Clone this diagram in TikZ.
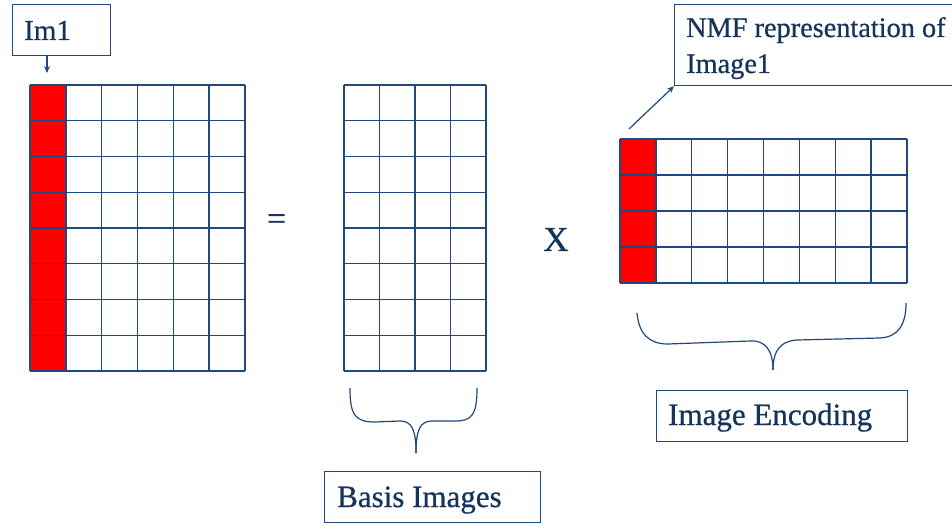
\documentclass[tikz,border=0pt]{standalone}
\usepackage{fontspec}
\setmainfont{Liberation Serif}[FakeBold=0.6]
\usetikzlibrary{arrows.meta}
\definecolor{lineblue}{RGB}{31,73,125}
\definecolor{textblue}{RGB}{20,52,92}
\definecolor{cellred}{RGB}{255,0,0}
\tikzset{
  gridline/.style={draw=lineblue, line width=1.4pt},
  labelbox/.style={draw=lineblue, line width=1.2pt, rectangle, anchor=north west, inner sep=0pt},
  labeltext/.style={text=textblue, anchor=base west, inner sep=0pt, align=left},
  bracestyle/.style={draw=lineblue, line width=1.2pt},
  pointer/.style={draw=lineblue, line width=1.2pt, -{Stealth[length=7pt,width=6pt]}},
  symb/.style={text=textblue, inner sep=0pt}
}
\begin{document}
\begin{tikzpicture}[x=1pt,y=-1pt]
\useasboundingbox (0,0) rectangle (952,529);
\fill[white] (0,0) rectangle (952,529);
\begin{scope}
\clip (0,0) rectangle (952,529);
% Matrix 1 (V)
\fill[cellred] (30,85) rectangle (65.8,371);
\foreach \i in {0,...,6} \draw[gridline] ({30+\i*215/6},85) -- ({30+\i*215/6},371);
\foreach \j in {0,...,8} \draw[gridline] (30,{85+\j*286/8}) -- (245,{85+\j*286/8});
\node[minimum width=215pt, minimum height=286pt, inner sep=0pt, anchor=north west] (V) at (30,85) {};
% Matrix 2 (W)
\foreach \i in {0,...,4} \draw[gridline] ({344+\i*142/4},85) -- ({344+\i*142/4},371);
\foreach \j in {0,...,8} \draw[gridline] (344,{85+\j*286/8}) -- (486,{85+\j*286/8});
\node[minimum width=142pt, minimum height=286pt, inner sep=0pt, anchor=north west] (W) at (344,85) {};
% Matrix 3 (H)
\fill[cellred] (620,139) rectangle (655.9,283);
\foreach \i in {0,...,8} \draw[gridline] ({620+\i*287/8},139) -- ({620+\i*287/8},283);
\foreach \j in {0,...,4} \draw[gridline] (620,{139+\j*144/4}) -- (907,{139+\j*144/4});
\node[minimum width=287pt, minimum height=144pt, inner sep=0pt, anchor=north west] (H) at (620,139) {};
% symbols
\node[symb, font=\fontsize{34}{34}\selectfont] (eq) at (276.5,222) {=};
\node[symb, font=\fontsize{35}{35}\selectfont] (times) at (556,239.5) {X};
% label boxes
\node[labelbox, minimum width=98pt, minimum height=51pt] (im1) at (12,4) {};
\node[labeltext, font=\fontsize{29}{29}\selectfont] (im1t) at (24,40) {Im1};
\node[labelbox, minimum width=300pt, minimum height=81pt] (nmf) at (674,4) {};
\node[labeltext, font=\fontsize{28.3}{36}\selectfont] (nmft) at (686,73) {NMF representation of\\Image1};
\node[labelbox, minimum width=216pt, minimum height=51pt] (basis) at (324,471) {};
\node[labeltext, font=\fontsize{31}{31}\selectfont] (basist) at (337,507) {Basis Images};
\node[labelbox, minimum width=251pt, minimum height=51pt] (enc) at (656,390) {};
\node[labeltext, font=\fontsize{31}{31}\selectfont] (enct) at (668,425) {Image Encoding};
% pointers
\coordinate (im1tip) at (47,73);
\draw[pointer] (im1.south -| im1tip) -- (im1tip);
\coordinate (hcorner) at (629,129);
\draw[pointer] (hcorner) -- (nmf.south west);
% braces
\draw[bracestyle] (350,388) .. controls (350,415) and (355,422) .. (375,422) -- (400,421)
  .. controls (412,421) and (416,430) .. (416,453);
\draw[bracestyle] (477,388) .. controls (477,415) and (472,421) .. (455,421) -- (432,421)
  .. controls (420,421) and (416,430) .. (416,453);
\draw[bracestyle] (637,313) .. controls (639,335) and (650,344) .. (668,344) -- (750,341)
  .. controls (765,340) and (773,350) .. (773,370);
\draw[bracestyle] (906,303) .. controls (906,325) and (898,337) .. (880,338) -- (797,340)
  .. controls (781,341) and (773,350) .. (773,370);
\end{scope}
\end{tikzpicture}
\end{document}
